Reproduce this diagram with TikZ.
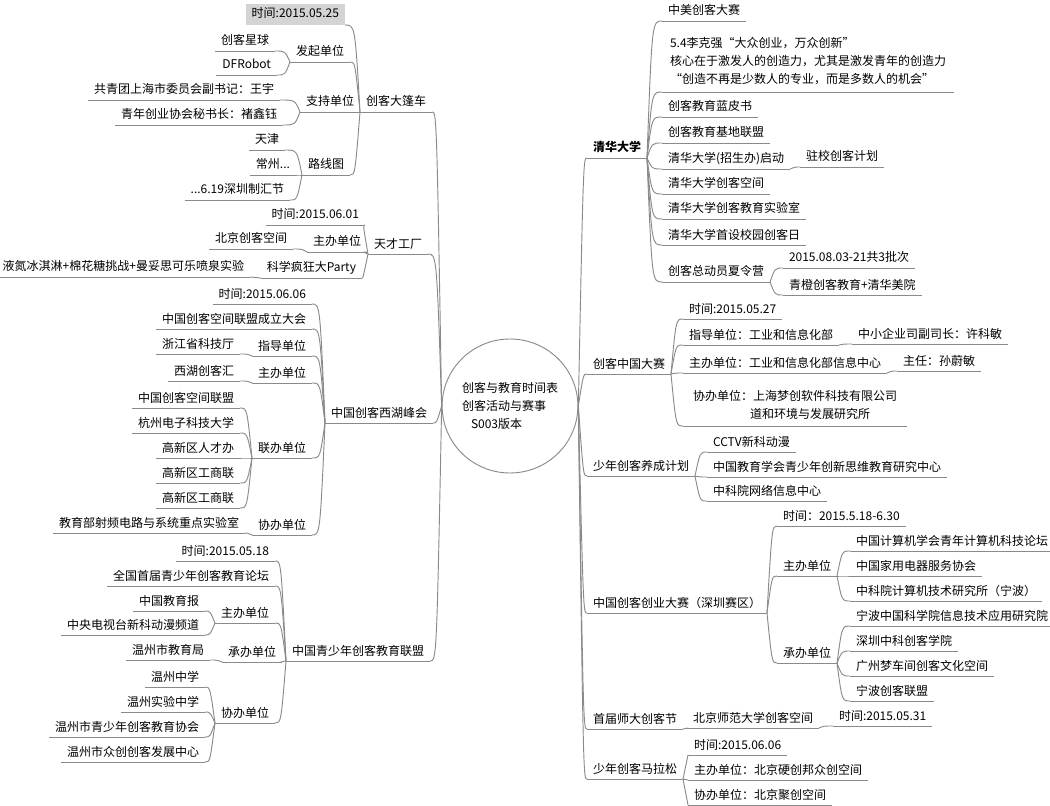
\documentclass[tikz,border=0pt]{standalone}
\usepackage{fontspec}
\setmainfont{Noto Sans CJK SC}
\usetikzlibrary{calc,shapes.geometric}
\definecolor{lc}{HTML}{8A8A8A}
\definecolor{hl}{HTML}{D4D4D4}
\tikzset{
 nt/.style={font=\fontsize{9pt}{13.5pt}\selectfont, text height=7.5pt, text depth=3pt, inner ysep=1.5pt, inner xsep=4.5pt, outer sep=0pt},
 L/.style={nt, anchor=south east},
 R/.style={nt, anchor=south west},
 multi/.style={align=left, text height=},
 conn/.style={draw=lc, line width=0.7pt},
 uline/.style={draw=lc, line width=0.7pt},
}
\newcommand\conL[2]{\draw[conn] let \p1=(#1), \p2=(#2) in (#2) .. controls (\x1-3.75pt,\y2) and (\x1-3.75pt,\y2) .. (#1);}
\newcommand\conR[2]{\draw[conn] let \p1=(#1), \p2=(#2) in (#2) .. controls (\x1+3.75pt,\y2) and (\x1+3.75pt,\y2) .. (#1);}
\begin{document}
\begin{tikzpicture}[x=0.75pt,y=-0.75pt]
\useasboundingbox (0,0) rectangle (1050,806);
% root
\node[draw=lc, line width=0.7pt, ellipse, minimum width=93pt, minimum height=100.5pt, inner sep=0pt, align=left, font=\fontsize{9pt}{13.5pt}\selectfont] (root) at (510,406) {创客与教育时间表\\创客活动与赛事\\\hspace*{6.75pt}S003版本};
% ---------- LEFT ----------
\node[L] (a) at (432,112) {创客大篷车};
\node[L, fill=hl, inner ysep=2.5pt] (a0) at (345,25) {时间:2015.05.25};
\node[L] (a1) at (350,62) {发起单位};
\node[L] (a11) at (275,51) {创客星球};
\node[L] (a12) at (277,75) {DFRobot};
\node[L] (a2) at (360,112) {支持单位};
\node[L] (a21) at (280,100) {共青团上海市委员会副书记：王宇};
\node[L] (a22) at (283,125) {青年创业协会秘书长：褚鑫钰};
\node[L] (a3) at (350,175) {路线图};
\node[L] (a31) at (285,150) {天津};
\node[L] (a32) at (296,175) {常州...};
\node[L] (a33) at (290,200) {...6.19深圳制汇节};
\node[L] (b) at (428,254) {天才工厂};
\node[L] (b1) at (365,225) {时间:2015.06.01};
\node[L] (b2) at (367,252) {主办单位};
\node[L] (b21) at (293,249) {北京创客空间};
\node[L] (b3) at (362,278) {科学疯狂大Party};
\node[L] (b31) at (250,277) {液氮冰淇淋+棉花糖挑战+曼妥思可乐喷泉实验};
\node[L] (c) at (433,423) {中国创客西湖峰会};
\node[L] (c1) at (312,304) {时间:2015.06.06};
\node[L] (c2) at (312,329) {中国创客空间联盟成立大会};
\node[L] (c3) at (312,356) {指导单位};
\node[L] (c31) at (240,354) {浙江省科技厅};
\node[L] (c4) at (312,383) {主办单位};
\node[L] (c41) at (240,381) {西湖创客汇};
\node[L] (c5) at (312,458) {联办单位};
\node[L] (c51) at (240,408) {中国创客空间联盟};
\node[L] (c52) at (240,433) {杭州电子科技大学};
\node[L] (c53) at (240,458) {高新区人才办};
\node[L] (c54) at (240,483) {高新区工商联};
\node[L] (c55) at (240,508) {高新区工商联};
\node[L] (c6) at (312,535) {协办单位};
\node[L] (c61) at (245,533) {教育部射频电路与系统重点实验室};
\node[L] (d) at (430,661) {中国青少年创客教育联盟};
\node[L] (d1) at (275,561) {时间:2015.05.18};
\node[L] (d2) at (275,586) {全国首届青少年创客教育论坛};
\node[L] (d3) at (275,623) {主办单位};
\node[L] (d31) at (205,611) {中国教育报};
\node[L] (d32) at (205,635) {中央电视台新科动漫频道};
\node[L] (d4) at (282,662) {承办单位};
\node[L] (d41) at (210,660) {温州市教育局};
\node[L] (d5) at (275,723) {协办单位};
\node[L] (d51) at (205,687) {温州中学};
\node[L] (d52) at (205,712) {温州实验中学};
\node[L] (d53) at (205,737) {温州市青少年创客教育协会};
\node[L] (d54) at (205,762) {温州市众创创客发展中心};
% ---------- RIGHT ----------
\node[R, font=\fontsize{9pt}{13.5pt}\selectfont\bfseries] (e) at (587,158) {清华大学};
\node[R] (e1) at (662,21) {中美创客大赛};
\node[R, multi, inner xsep=6pt, text depth=4.5pt] (e2) at (662,92) {5.4李克强“大众创业，万众创新”\\核心在于激发人的创造力，尤其是激发青年的创造力\\“创造不再是少数人的专业，而是多数人的机会”};
\node[R] (e3) at (662,117) {创客教育蓝皮书};
\node[R] (e4) at (662,143) {创客教育基地联盟};
\node[R] (e5) at (662,169) {清华大学(招生办)启动};
\node[R] (e51) at (800,167) {驻校创客计划};
\node[R] (e6) at (662,194) {清华大学创客空间};
\node[R] (e7) at (662,219) {清华大学创客教育实验室};
\node[R] (e8) at (662,245) {清华大学首设校园创客日};
\node[R] (e9) at (662,282) {创客总动员夏令营};
\node[R] (e91) at (783,268) {2015.08.03-21共3批次};
\node[R] (e92) at (783,295) {青橙创客教育+清华美院};
\node[R] (f) at (587,374) {创客中国大赛};
\node[R] (f1) at (683,319) {时间:2015.05.27};
\node[R] (f2) at (683,345) {指导单位：工业和信息化部};
\node[R] (f21) at (852,344) {中小企业司副司长：许科敏};
\node[R] (f3) at (683,373) {主办单位：工业和信息化部信息中心};
\node[R] (f31) at (897,371) {主任：孙蔚敏};
\node[R, multi, inner xsep=7.5pt, text depth=4.5pt] (f4) at (683,426) {协办单位：上海梦创软件科技有限公司\\\hspace*{4.75em}道和环境与发展研究所};
\node[R] (g) at (587,476) {少年创客养成计划};
\node[R] (g1) at (707,452) {CCTV新科动漫};
\node[R] (g2) at (707,477) {中国教育学会青少年创新思维教育研究中心};
\node[R] (g3) at (707,501) {中科院网络信息中心};
\node[R] (h) at (587,613) {中国创客创业大赛（深圳赛区）};
\node[R] (h1) at (777,526) {时间：2015.5.18-6.30};
\node[R] (h2) at (777,576) {主办单位};
\node[R] (h21) at (850,551) {中国计算机学会青年计算机科技论坛};
\node[R] (h22) at (850,576) {中国家用电器服务协会};
\node[R] (h23) at (850,601) {中科院计算机技术研究所（宁波）};
\node[R] (h3) at (777,663) {承办单位};
\node[R] (h31) at (850,626) {宁波中国科学院信息技术应用研究院};
\node[R] (h32) at (850,651) {深圳中科创客学院};
\node[R] (h33) at (850,676) {广州梦车间创客文化空间};
\node[R] (h34) at (850,701) {宁波创客联盟};
\node[R] (i) at (587,729) {首届师大创客节};
\node[R] (i1) at (687,728) {北京师范大学创客空间};
\node[R] (i11) at (833,726) {时间:2015.05.31};
\node[R] (j) at (587,779) {少年创客马拉松};
\node[R] (j1) at (688,755) {时间:2015.06.06};
\node[R] (j2) at (688,780) {主办单位：北京硬创邦众创空间};
\node[R] (j3) at (688,805) {协办单位：北京聚创空间};
% underlines
\foreach \k in {a,a1,a11,a12,a2,a21,a22,a3,a31,a32,a33,b,b1,b2,b21,b3,b31,c,c1,c2,c3,c31,c4,c41,c5,c51,c52,c53,c54,c55,c6,c61,d,d1,d2,d3,d31,d32,d4,d41,d5,d51,d52,d53,d54,e,e1,e2,e3,e4,e5,e51,e6,e7,e8,e9,e91,e92,f,f1,f2,f21,f3,f31,f4,g,g1,g2,g3,h,h1,h2,h21,h22,h23,h3,h31,h32,h33,h34,i,i1,i11,j,j1,j2,j3}
  \draw[uline] (\k.south west) -- (\k.south east);
% ---------- connectors left ----------
\foreach \k in {a,b,c,d} \conL{root.west}{\k.south east};
\foreach \k in {a0,a1,a2,a3} \conL{a.south west}{\k.south east};
\foreach \k in {a11,a12} \conL{a1.south west}{\k.south east};
\foreach \k in {a21,a22} \conL{a2.south west}{\k.south east};
\foreach \k in {a31,a32,a33} \conL{a3.south west}{\k.south east};
\foreach \k in {b1,b2,b3} \conL{b.south west}{\k.south east};
\conL{b2.south west}{b21.south east}
\conL{b3.south west}{b31.south east}
\foreach \k in {c1,c2,c3,c4,c5,c6} \conL{c.south west}{\k.south east};
\conL{c3.south west}{c31.south east}
\conL{c4.south west}{c41.south east}
\foreach \k in {c51,c52,c53,c54,c55} \conL{c5.south west}{\k.south east};
\conL{c6.south west}{c61.south east}
\foreach \k in {d1,d2,d3,d4,d5} \conL{d.south west}{\k.south east};
\foreach \k in {d31,d32} \conL{d3.south west}{\k.south east};
\conL{d4.south west}{d41.south east}
\foreach \k in {d51,d52,d53,d54} \conL{d5.south west}{\k.south east};
% ---------- connectors right ----------
\foreach \k in {e,f,g,h,i,j} \conR{root.east}{\k.south west};
\foreach \k in {e1,e2,e3,e4,e5,e6,e7,e8,e9} \conR{e.south east}{\k.south west};
\conR{e5.south east}{e51.south west}
\foreach \k in {e91,e92} \conR{e9.south east}{\k.south west};
\foreach \k in {f1,f2,f3,f4} \conR{f.south east}{\k.south west};
\conR{f2.south east}{f21.south west}
\conR{f3.south east}{f31.south west}
\foreach \k in {g1,g2,g3} \conR{g.south east}{\k.south west};
\foreach \k in {h1,h2,h3} \conR{h.south east}{\k.south west};
\foreach \k in {h21,h22,h23} \conR{h2.south east}{\k.south west};
\foreach \k in {h31,h32,h33,h34} \conR{h3.south east}{\k.south west};
\conR{i.south east}{i1.south west}
\conR{i1.south east}{i11.south west}
\foreach \k in {j1,j2,j3} \conR{j.south east}{\k.south west};
\end{tikzpicture}
\end{document}
